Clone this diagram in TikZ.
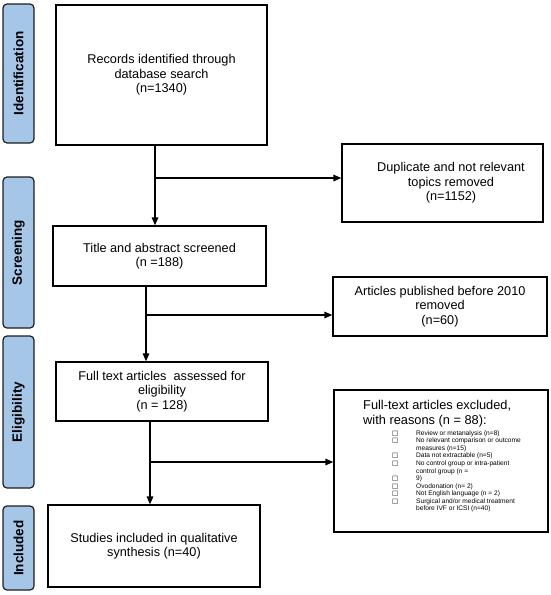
\documentclass[tikz,border=0pt]{standalone}
\usepackage{fontspec}
\setmainfont{Liberation Sans}
\newfontfamily\symfont{DejaVu Sans}
\usetikzlibrary{arrows.meta}
\definecolor{stagefill}{RGB}{166,198,232}
\definecolor{stageline}{RGB}{30,30,30}
\newcommand\exbul{\makebox[24pt][l]{{\symfont\char"25A1}}}
\newcommand\exgap{\hspace*{24pt}}
\begin{document}
\begin{tikzpicture}[x=1pt,y=-1pt,
  box/.style={draw=black, line width=1.3pt, fill=white, inner sep=2pt, align=center,
    font=\fontsize{12.7}{14.5}\selectfont},
  stage/.style={draw=stageline, fill=stagefill, line width=1.2pt, rounded corners=4pt,
    rotate=90, minimum height=31pt, inner sep=0pt, font=\fontsize{13.5}{15}\selectfont\bfseries},
  trunk/.style={line width=1.5pt},
  flow/.style={line width=1.5pt, -{Triangle[length=8pt,width=6.5pt]}}]
\useasboundingbox (0,0) rectangle (550,595);

% stage labels
\node[stage, minimum width=139pt] (sid) at (18.5,73.5) {Identification};
\node[stage, minimum width=151pt] (ssc) at (18.5,252.5) {Screening};
\node[stage, minimum width=152pt] (sel) at (18.5,412) {Eligibility};
\node[stage, minimum width=84pt] (sin) at (18.5,548) {Included};

% main boxes
\node[box, minimum width=211pt, minimum height=140pt] (rec) at (161.5,75)
  {Records identified through\\database search\\(n=1340)};
\node[box, minimum width=213pt, minimum height=60pt] (tit) at (159.5,256)
  {Title and abstract screened\\(n =188)};
\node[box, minimum width=212pt, minimum height=59pt] (ful) at (162,391.5)
  {Full text articles\ \ assessed for\\eligibility\\(n = 128)};
\node[box, minimum width=212pt, minimum height=82pt] (stu) at (154,546)
  {Studies included in qualitative\\synthesis (n=40)};

% side boxes
\node[box, minimum width=201pt, minimum height=78pt] (dup) at (442.5,183) {};
\node[align=center, inner sep=0pt, font=\fontsize{12.7}{14.5}\selectfont] (dupt) at (451,183)
  {Duplicate and not relevant\\topics removed\\(n=1152)};
\node[box, minimum width=214pt, minimum height=59pt] (art) at (440,306.5)
  {Articles published before 2010\\removed\\(n=60)};
\node[box, minimum width=214pt, minimum height=142pt] (exc) at (441,461) {};
\node[anchor=north west, align=left, inner sep=0pt, font=\fontsize{12.8}{15}\selectfont] (exh) at (363,400)
  {Full-text articles excluded,\\with reasons (n = 88):};
\node[anchor=north west, align=left, inner sep=0pt, font=\fontsize{6.6}{7.57}\selectfont] (exl) at (392,430.3)
  {\exbul Review or metanalysis (n=8)\\
   \exbul No relevant comparison or outcome\\
   \exgap measures (n=15)\\
   \exbul Data not extractable (n=5)\\
   \exbul No control group or intra-patient\\
   \exgap control group (n =\\
   \exbul 9)\\
   \exbul Ovodonation (n= 2)\\
   \exbul Not English language (n = 2)\\
   \exbul Surgical and/or medical treatment\\
   \exgap before IVF or ICSI (n=40)};

% connectors
\coordinate (b1) at (155,178);
\coordinate (b2) at (146,315);
\coordinate (b3) at (150,462);
\draw[flow] (rec.south -| b1) -- (tit.north -| b1);
\draw[flow] (b1) -- (dup.west |- b1);
\draw[flow] (tit.south -| b2) -- (ful.north -| b2);
\draw[flow] (b2) -- (art.west |- b2);
\draw[flow] (ful.south -| b3) -- (stu.north -| b3);
\draw[flow] (b3) -- (exc.west |- b3);
\end{tikzpicture}
\end{document}
